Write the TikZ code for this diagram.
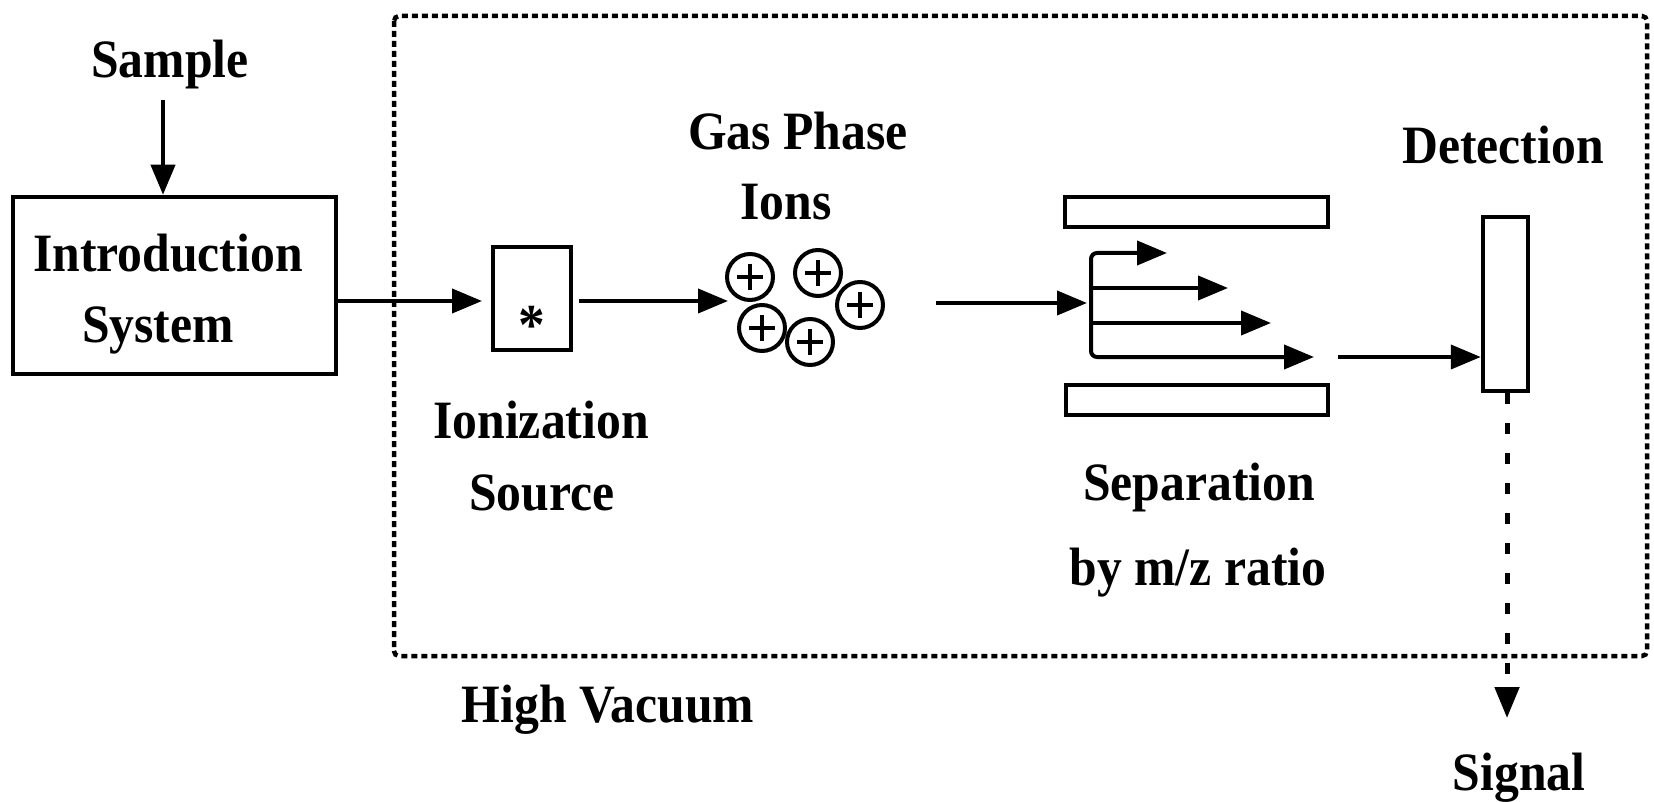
\documentclass[tikz,border=0pt]{standalone}
\usepackage{fontspec}
\setmainfont{Liberation Serif}[BoldFeatures={FakeStretch=0.92}]
\usetikzlibrary{arrows.meta}
\begin{document}
\begin{tikzpicture}[x=1pt,y=-1pt,
  box/.style={draw, line width=4.5pt, inner sep=0pt, rectangle},
  arr/.style={line width=4pt, -{Triangle[length=30pt,width=24pt]}},
  lbl/.style={anchor=base, inner sep=0pt, font=\fontsize{54}{60}\selectfont\bfseries},
  vac/.style={line width=4.5pt, dash pattern=on 6pt off 4pt, rounded corners=5pt},
  sig/.style={line width=5pt, dash pattern=on 11pt off 19pt, -{Triangle[length=31pt,width=24pt]}},
  ion/.style={draw, circle, line width=4pt, minimum size=46pt, inner sep=0pt},
  plus/.style={line width=3.5pt}
]
\useasboundingbox (0,0) rectangle (1654,802);

% high vacuum enclosure
\draw[vac] (394,16) rectangle (1647,656);

% labels
\node[lbl] (sample) at (170,78) {Sample};
\node[lbl] (intro1) at (168,272) {Introduction};
\node[lbl] (intro2) at (158,342) {System};
\node[lbl] (gas1) at (798,150) {Gas Phase};
\node[lbl] (gas2) at (786,220) {Ions};
\node[lbl] (ionz1) at (541,438) {Ionization};
\node[lbl] (ionz2) at (542,510) {Source};
\node[lbl] (sep1) at (1199,500) {Separation};
\node[lbl] (sep2) at (1198,585) {by m/z ratio};
\node[lbl] (det) at (1503,164) {Detection};
\node[lbl] (hv) at (608,722) {High Vacuum};
\node[lbl] (signal) at (1519,790) {Signal};

% boxes
\node[box, minimum width=323pt, minimum height=177pt] (intro) at (174.5,285.5) {};
\node[box, minimum width=78pt, minimum height=103pt] (ionbox) at (532,298.5) {};
\node[lbl, font=\fontsize{58}{62}\selectfont\bfseries] (star) at (532,344) {*};
\node[box, minimum width=263pt, minimum height=30pt] (plateT) at (1196.5,212) {};
\node[box, minimum width=262pt, minimum height=30pt] (plateB) at (1197,400) {};
\node[box, minimum width=45pt, minimum height=174pt] (detbox) at (1505.5,304) {};

% ions
\node[ion] (i1) at (750,277) {};
\node[ion] (i2) at (818,273) {};
\node[ion] (i3) at (860,305) {};
\node[ion] (i4) at (762,328) {};
\node[ion] (i5) at (810,342) {};
\foreach \n in {i1,i2,i3,i4,i5}{
  \draw[plus] (\n.center) +(-13,0) -- +(13,0);
  \draw[plus] (\n.center) +(0,-13) -- +(0,13);
}

% connectors
\coordinate (s0) at (163,100);
\draw[arr] (s0) -- (s0 |- intro.north);

\coordinate (a0) at (336,301);
\coordinate (a1) at (482,301);
\draw[arr] (a0) -- (a1);

\coordinate (b0) at (579,301);
\coordinate (b1) at (728,301);
\draw[arr] (b0) -- (b1);

\coordinate (c0) at (936,303);
\coordinate (c1) at (1087,303);
\draw[arr] (c0) -- (c1);

\coordinate (sp) at (1091,303);
\coordinate (t1) at (1167,253);
\coordinate (t2) at (1228,288);
\coordinate (t3) at (1271,323);
\coordinate (t4) at (1314,357);
\draw[arr, rounded corners=6pt] (sp) -- (sp |- t1) -- (t1);
\draw[arr, rounded corners=6pt] (sp) -- (sp |- t4) -- (t4);
\draw[arr] (sp |- t2) -- (t2);
\draw[arr] (sp |- t3) -- (t3);

\coordinate (d0) at (1338,357);
\draw[arr] (d0) -- (d0 -| detbox.west);

\coordinate (e1) at (1507,718);
\draw[sig] (detbox.south -| e1) -- (e1);
\end{tikzpicture}
\end{document}
